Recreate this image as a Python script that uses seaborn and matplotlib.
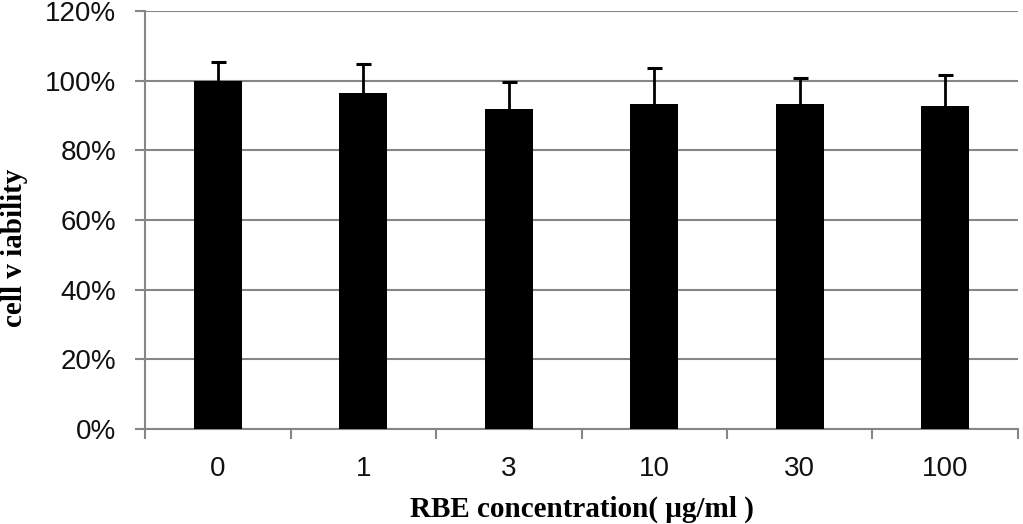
import matplotlib
matplotlib.use("Agg")
import matplotlib.pyplot as plt
import seaborn as sns
import pandas as pd
import numpy as np
from matplotlib.ticker import FixedLocator

# ---- data ----
categories = ["0", "1", "3", "10", "30", "100"]
viability = [100.0, 96.5, 92.0, 93.3, 93.3, 92.7]
errors = [5.5, 8.3, 7.5, 10.2, 7.5, 9.0]
y_ticks = [0, 20, 40, 60, 80, 100, 120]
y_tick_labels = ["0%", "20%", "40%", "60%", "80%", "100%", "120%"]
x_title = "RBE concentration( \u03bcg/ml )"
y_title = "cell v iability"

sns.set_theme(style="white")
plt.rcParams['font.family'] = ['Liberation Sans', 'DejaVu Sans']

grey = "#868686"

fig = plt.figure(figsize=(10.23, 5.24), dpi=100)
ax = fig.add_axes([0.142, 0.181, 0.853, 0.798])

df = pd.DataFrame({"conc": categories, "viability": viability})
sns.barplot(data=df, x="conc", y="viability", order=categories, color="black",
            saturation=1, width=0.33, errorbar=None, ax=ax, zorder=3,
            edgecolor="none", linewidth=0)
eb = ax.errorbar(np.arange(len(categories)), viability,
                 yerr=[np.zeros(len(errors)), errors], fmt="none", ecolor="black",
                 elinewidth=2, capsize=5.4, capthick=2.2, zorder=4)
# hide the lower (zero-length) caps
eb[1][0].set_visible(False)

ax.set_ylim(0, 120)
ax.set_xlim(-0.5, len(categories) - 0.5)
ax.set_yticks(y_ticks)
ax.set_yticklabels(y_tick_labels)
ax.yaxis.grid(True, color=grey, linewidth=1.5)
ax.set_axisbelow(True)

for s in ["top", "right"]:
    ax.spines[s].set_visible(False)
for s in ["left", "bottom"]:
    ax.spines[s].set_color(grey)
    ax.spines[s].set_linewidth(1.5)

ax.tick_params(axis="y", which="major", direction="out", length=7, width=1.5,
               color=grey, pad=14, labelsize=20, labelcolor="#111111", left=True)
ax.tick_params(axis="x", which="major", length=0, pad=19, labelsize=20,
               labelcolor="#111111", bottom=True)
ax.xaxis.set_minor_locator(FixedLocator(np.arange(-0.5, len(categories), 1.0)))
ax.tick_params(axis="x", which="minor", direction="out", length=7, width=1.5,
               color=grey, bottom=True)

ax.set_xlabel(x_title, fontfamily="Liberation Serif", fontweight="bold",
              fontsize=21, labelpad=10, color="black")
ax.set_ylabel(y_title, fontfamily="Liberation Serif", fontweight="bold",
              fontsize=21, color="black")
ax.yaxis.set_label_coords(-0.134, 0.433)

fig.savefig("out.png", dpi=100)
